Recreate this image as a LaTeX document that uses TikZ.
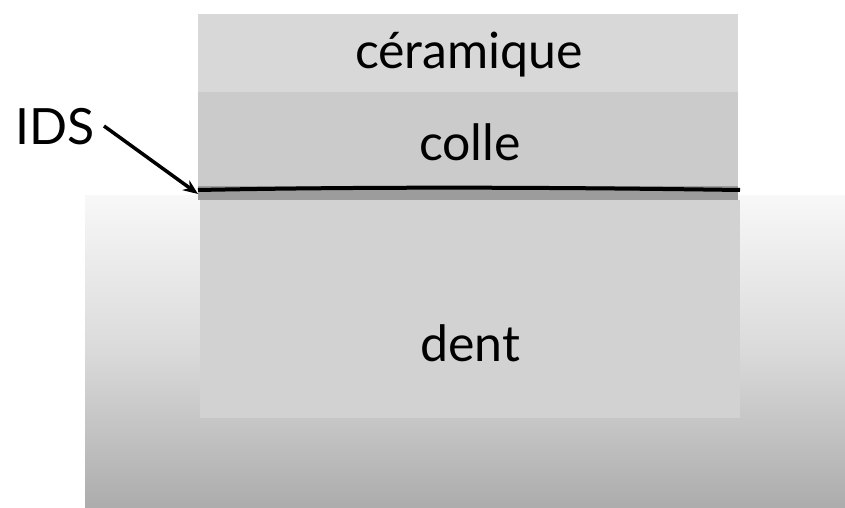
\documentclass[tikz,border=0pt]{standalone}
\usepackage{fontspec}
\setmainfont{Lato}
\usetikzlibrary{arrows.meta}
\definecolor{cer}{HTML}{D8D8D8}
\definecolor{col}{HTML}{CBCBCB}
\definecolor{band}{HTML}{9C9C9C}
\definecolor{dentin}{HTML}{D2D2D2}
\definecolor{gtop}{HTML}{F8F8F8}
\definecolor{gmid}{HTML}{DADADA}
\definecolor{gbot}{HTML}{ACACAC}
\tikzset{
  lbl/.style={font=\fontsize{50}{56}\selectfont, text=black, inner sep=0pt},
  layer/.style={draw=none}
}
\begin{document}
\begin{tikzpicture}[x=1pt,y=-1pt]
\useasboundingbox (0,0) rectangle (845,508);
\fill[white] (0,0) rectangle (845,508);
% tooth gradient
\shade[top color=gtop, bottom color=gbot, middle color=gmid] (85,195) rectangle (845,508);
% inner dent block
\fill[dentin] (200,200) rectangle (740,418);
% ceramic and glue
\fill[cer] (198,14) rectangle (738,92);
\fill[col] (198,92) rectangle (738,186);
\fill[band] (198,186) rectangle (738,200);
\coordinate (lineL) at (198,190);
\coordinate (lineR) at (740,190);
\draw[line width=4pt, black] (lineL) .. controls (400,186) and (600,188) .. (lineR);
% labels
\node[lbl] (ceramique) at (469,55) {céramique};
\node[lbl] (colle) at (470,142) {colle};
\node[lbl] (dent) at (470,343) {dent};
\node[lbl] (ids) at (55,127) {IDS};
\coordinate (idstip) at (198,194);
\draw[line width=3.5pt, -{Stealth[length=15pt,width=12pt]}] (104,126) -- (idstip);
\end{tikzpicture}
\end{document}
